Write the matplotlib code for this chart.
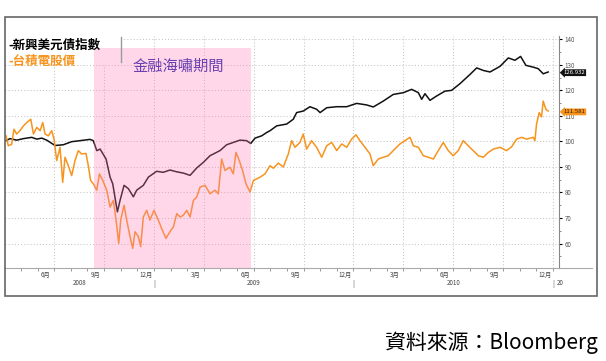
import matplotlib.pyplot as plt
from matplotlib.patches import Rectangle
from matplotlib.lines import Line2D
from matplotlib.transforms import blended_transform_factory

plt.rcParams['font.family'] = ['Noto Sans CJK TC', 'DejaVu Sans']

# ----- Data (time in months counted from 2008-01-01) -----
bond_t = [3.10, 3.34, 3.74, 4.15, 4.65, 4.95, 5.25, 5.55, 6.05, 6.55,
          7.05, 7.55, 8.15, 8.35, 8.56, 8.76, 9.12, 9.36, 9.52, 9.80,
          9.96, 10.20, 10.46, 10.76, 10.96, 11.36, 11.66, 12.16, 12.56, 12.96,
          13.37, 13.77, 14.17, 14.57, 14.97, 15.37, 15.97, 16.37, 16.77, 17.17,
          17.57, 17.82, 18.08, 18.48, 18.78, 18.98, 19.38, 19.98, 20.38, 20.58,
          20.98, 21.38, 21.78, 21.99, 22.39, 22.99, 23.59, 24.19, 24.79, 25.19,
          25.79, 26.39, 27.00, 27.50, 27.90, 28.10, 28.30, 28.60, 29.00, 29.50,
          29.90, 30.40, 31.00, 31.41, 31.81, 32.21, 32.81, 33.31, 33.71, 34.05,
          34.37, 34.81, 35.11, 35.41, 35.71]
bond_v = [100.3, 101.1, 100.5, 101.1, 101.6, 100.9, 101.3, 100.5, 98.4, 98.7,
          99.9, 100.3, 100.8, 100.3, 96.4, 97.0, 93.1, 86.0, 83.4, 72.4,
          76.9, 82.8, 81.5, 78.3, 80.9, 82.8, 86.0, 88.3, 87.9, 88.8,
          88.1, 87.6, 86.7, 89.6, 91.8, 94.4, 96.4, 98.7, 99.6, 100.5,
          100.3, 99.2, 101.3, 102.2, 103.5, 104.2, 106.1, 106.8, 108.7, 111.3,
          111.9, 113.6, 112.6, 111.3, 113.2, 113.6, 113.6, 114.9, 114.3, 113.5,
          115.8, 118.4, 119.1, 120.4, 119.1, 116.5, 118.7, 116.1, 117.8, 119.7,
          120.0, 122.6, 126.2, 128.8, 127.8, 127.2, 129.4, 132.7, 131.8, 133.3,
          129.8, 129.1, 128.5, 126.5, 127.2]

tsmc_t = [3.10, 3.24, 3.44, 3.58, 3.74, 3.94, 4.15, 4.35, 4.59, 4.75,
          4.95, 5.15, 5.31, 5.45, 5.65, 5.85, 5.99, 6.15, 6.35, 6.51,
          6.65, 6.85, 7.05, 7.25, 7.45, 7.65, 7.91, 8.05, 8.19, 8.35,
          8.56, 8.72, 8.92, 9.16, 9.36, 9.56, 9.72, 9.88, 10.00, 10.20,
          10.36, 10.56, 10.72, 10.86, 11.06, 11.20, 11.36, 11.56, 11.76, 12.00,
          12.26, 12.46, 12.72, 12.96, 13.17, 13.37, 13.57, 13.77, 13.97, 14.17,
          14.37, 14.57, 14.77, 15.07, 15.37, 15.67, 15.87, 16.07, 16.27, 16.57,
          16.77, 16.93, 17.13, 17.33, 17.53, 17.78, 17.98, 18.38, 18.68, 18.98,
          19.18, 19.48, 19.78, 20.08, 20.28, 20.48, 20.78, 20.98, 21.18, 21.48,
          21.78, 22.09, 22.39, 22.69, 22.99, 23.29, 23.59, 23.89, 24.15, 24.39,
          24.69, 24.99, 25.19, 25.49, 25.79, 26.09, 26.39, 26.79, 27.10, 27.40,
          27.60, 27.90, 28.20, 28.50, 28.80, 29.10, 29.40, 29.70, 30.00, 30.30,
          30.60, 30.90, 31.20, 31.51, 31.81, 32.11, 32.41, 32.81, 33.21, 33.51,
          33.81, 34.11, 34.41, 34.81, 34.91, 35.01, 35.17, 35.31, 35.41, 35.57,
          35.71]
tsmc_v = [102.2, 98.3, 98.9, 104.8, 102.9, 104.2, 106.1, 107.4, 108.7, 102.9,
          105.5, 104.2, 107.4, 102.9, 102.2, 104.2, 100.9, 92.5, 97.7, 84.0,
          93.8, 90.5, 86.6, 92.5, 96.4, 95.1, 95.3, 90.5, 84.7, 83.4,
          80.9, 87.3, 84.7, 80.9, 74.3, 76.9, 69.2, 60.1, 69.2, 75.0,
          69.2, 62.7, 58.1, 64.6, 62.7, 58.8, 70.4, 73.0, 69.2, 73.0,
          69.2, 65.9, 62.0, 64.6, 66.6, 71.7, 70.4, 71.1, 73.0, 70.4,
          76.9, 78.2, 82.1, 82.8, 79.5, 80.9, 79.5, 93.1, 88.6, 89.9,
          87.3, 95.7, 92.5, 88.6, 83.4, 80.2, 84.7, 86.0, 87.3, 90.5,
          89.5, 91.5, 90.0, 95.1, 100.3, 97.7, 99.6, 102.9, 97.0, 100.3,
          97.7, 93.8, 98.3, 99.6, 96.4, 99.0, 97.7, 100.9, 102.6, 100.3,
          97.7, 95.1, 90.5, 93.1, 93.8, 94.4, 96.4, 99.0, 100.3, 101.6,
          98.3, 97.7, 94.4, 93.8, 93.1, 96.4, 99.6, 96.4, 94.4, 96.4,
          100.3, 98.3, 96.4, 94.4, 93.8, 95.7, 97.0, 97.7, 96.4, 97.9,
          100.9, 101.6, 100.9, 101.6, 100.3, 106.8, 111.3, 109.6, 115.8, 112.6,
          111.9]

last_values = ["126.932", "111.581"]
last_levels = [126.932, 111.581]

crisis_start, crisis_end = 8.39, 17.82

month_labels = ["6月", "9月", "12月", "3月", "6月", "9月", "12月",
                "3月", "6月", "9月", "12月"]
month_pos = [5.5, 8.5, 11.5, 14.5, 17.5, 20.5, 23.5, 26.5, 29.5, 32.5, 35.5]
year_labels = ["2008", "2009", "2010"]
year_pos = [7.52, 18.0, 30.0]
year_breaks = [12, 24, 36]
grid_months = [6, 9, 12, 15, 18, 21, 24, 27, 30, 33, 36]

# ----- Figure -----
W, H = 606, 361
fig = plt.figure(figsize=(W / 100, H / 100), dpi=100)
ax = fig.add_axes([5 / W, 1 - 268.3 / H, 554 / W, 232.3 / H])

ax.set_xlim(3.04, 36.36)
ax.set_ylim(50.3, 141.3)

grid_kw = dict(color="#c4c4c4", linestyle=(0, (1, 2)), linewidth=0.75, zorder=0.5)
for g in range(60, 141, 10):
    ax.axhline(g, **grid_kw)
for g in grid_months:
    ax.axvline(g, **grid_kw)

# white legend box (covers grid)
ax.add_patch(Rectangle((5 / W, 1 - 65 / H), 116 / W, 29 / H, transform=fig.transFigure,
                       fc="white", ec="none", zorder=1))

ax.plot(bond_t, bond_v, color="#111111", lw=1.1, zorder=2)
ax.plot(tsmc_t, tsmc_v, color="#f7941d", lw=1.1, zorder=2)

ax.axvspan(crisis_start, crisis_end, ymin=0, ymax=0.947, color="#ff7db9",
           alpha=0.3, lw=0, zorder=3)

# axes styling
for s in ["left", "top"]:
    ax.spines[s].set_visible(False)
ax.spines["right"].set_color("#888888")
ax.spines["right"].set_linewidth(0.8)
ax.spines["bottom"].set_color("#aaaaaa")
ax.spines["bottom"].set_linewidth(0.8)

ax.yaxis.tick_right()
ax.set_yticks(range(60, 141, 10))
ax.set_yticks(range(55, 140, 10), minor=True)
ax.tick_params(axis="y", which="major", length=2, width=0.8, color="black",
               labelsize=4.5, labelcolor="#555555", pad=2)
ax.tick_params(axis="y", which="minor", length=1.5, width=0.6, color="#777777")

ax.set_xticks(month_pos, month_labels)
ax.set_xticks(range(4, 37), minor=True)
ax.tick_params(axis="x", which="major", length=0, labelsize=4.5,
               labelcolor="#444444", pad=2)
ax.tick_params(axis="x", which="minor", length=2, width=0.6, color="#888888")

tr = blended_transform_factory(ax.transData, ax.transAxes)
for lab, p in zip(year_labels, year_pos):
    ax.text(p, -0.063, lab, transform=tr, ha="center", va="center",
            fontsize=4.5, color="#444444")
for b in year_breaks:
    ax.text(b, -0.068, "|", transform=tr, ha="center", va="center",
            fontsize=5, color="#666666")
ax.text(36.2, -0.063, "20", transform=tr, ha="left", va="center",
        fontsize=4.5, color="#444444")

# last value tags
tr_r = blended_transform_factory(ax.transAxes, ax.transData)
for txt, lvl, c, tc in zip(last_values, last_levels, ["#111111", "#f7941d"],
                           ["white", "#3a2000"]):
    ax.text(1.008, lvl, txt, transform=tr_r, ha="left", va="center",
            fontsize=4.3, color=tc, zorder=5,
            bbox=dict(boxstyle="larrow,pad=0.15", fc=c, ec="none"))

# extension of the base line and outer frame
fig.add_artist(Line2D([559 / W, 592 / W], [1 - 268.3 / H] * 2, color="#aaaaaa", lw=0.8))
fig.add_artist(Line2D([121 / W, 121 / W], [1 - 37 / H, 1 - 62 / H], color="#999999", lw=1))
fig.add_artist(Rectangle((5 / W, 1 - 296 / H), 592 / W, 279 / H, fill=False,
                         ec="#666666", lw=1.2))

# texts
fig.text(8 / W, 1 - 45 / H, "-新興美元債指數", fontsize=9, fontweight="bold",
         color="black", va="center")
fig.text(8 / W, 1 - 61 / H, "-台積電股價", fontsize=9, fontweight="bold",
         color="#f7941d", va="center")
fig.text(178 / W, 1 - 66 / H, "金融海嘯期間", fontsize=11, color="#6a40b0",
         ha="center", va="center", zorder=6)
fig.text(598 / W, 1 - 343 / H, "資料來源：Bloomberg", fontsize=15, color="black",
         ha="right", va="center")

fig.savefig("out.png", dpi=100)
